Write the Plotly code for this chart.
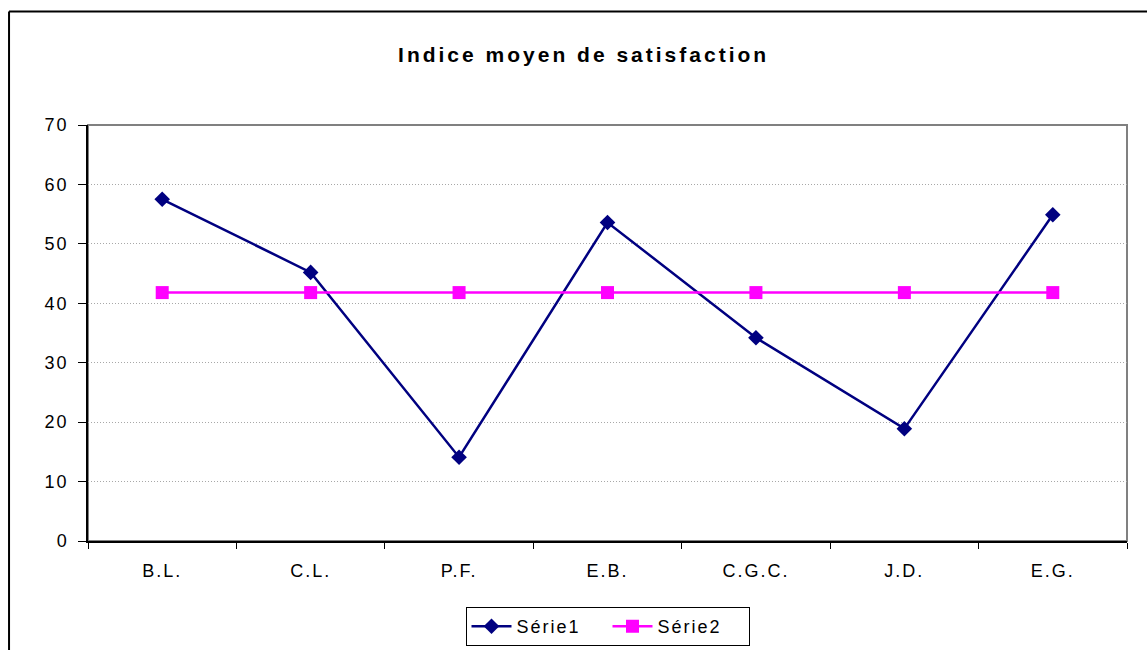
import plotly.graph_objects as go

categories = ["B.L.", "C.L.", "P.F.", "E.B.", "C.G.C.", "J.D.", "E.G."]
serie1 = [57.5, 45.2, 14.1, 53.6, 34.2, 18.9, 54.9]
serie2 = [41.8, 41.8, 41.8, 41.8, 41.8, 41.8, 41.8]
y_ticks = [0, 10, 20, 30, 40, 50, 60, 70]

FONT = "Liberation Sans, Arial, sans-serif"

fig = go.Figure()
fig.add_trace(go.Scatter(
    x=categories, y=serie1, name="Série1", mode="lines+markers",
    line=dict(color="#000080", width=2.5),
    marker=dict(symbol="diamond", size=12, color="#000080"),
))
fig.add_trace(go.Scatter(
    x=categories, y=serie2, name="Série2", mode="lines+markers",
    line=dict(color="#FF00FF", width=2.5),
    marker=dict(symbol="square", size=13, color="#FF00FF"),
))

# plot-area border (gray)
fig.add_shape(type="rect", xref="paper", yref="paper", x0=0, y0=0, x1=1, y1=1,
              line=dict(color="#808080", width=2), layer="below")
# outer chart border (top + left visible)
fig.add_shape(type="line", xref="paper", yref="paper", x0=-0.076, x1=1.2, y0=1.273, y1=1.273,
              line=dict(color="black", width=2))
fig.add_shape(type="line", xref="paper", yref="paper", x0=-0.076, x1=-0.076, y0=1.273, y1=-0.4,
              line=dict(color="black", width=2))

fig.update_layout(
    width=1147, height=650,
    margin=dict(l=88, r=20, t=125, b=109),
    paper_bgcolor="white", plot_bgcolor="white",
    font=dict(family=FONT, size=18, color="black"),
    title=dict(text="<b>Indice moyen de satisfaction</b>", font=dict(family=FONT, size=21, color="black"),
               x=0.477, xref="paper", xanchor="center", y=1 - 55 / 650, yref="container", yanchor="middle"),
    showlegend=True,
    legend=dict(orientation="h", x=0.5, xanchor="center", xref="paper",
                y=1 - 607 / 650, yref="container", yanchor="top",
                bordercolor="black", borderwidth=1, bgcolor="white",
                font=dict(family=FONT, size=18, color="black"),
                itemwidth=40, tracegroupgap=0, entrywidth=86),
    xaxis=dict(
        type="category", range=[-0.5, 6.5], tickson="boundaries",
        showgrid=False, showline=True, linecolor="black", linewidth=1.5,
        ticks="outside", ticklen=6, tickcolor="black", tickwidth=1,
        ticklabelstandoff=13,
    ),
    yaxis=dict(
        range=[0, 70], tickvals=y_ticks, showgrid=True, gridcolor="#A8A8A8", griddash="1px,2px", gridwidth=1,
        zeroline=False, showline=True, linecolor="black", linewidth=1.5,
        ticks="outside", ticklen=8, tickcolor="black", tickwidth=1,
        ticklabelstandoff=6,
    ),
)

post = """
var s=document.createElement('style');
s.textContent='html,body{margin:0;padding:0} svg text{letter-spacing:2px} svg text.gtitle{letter-spacing:3px}';
document.head.appendChild(s);
var gd=document.getElementById('{plot_id}');
Plotly.newPlot(gd, gd.data, gd.layout, {displayModeBar:false});
"""

fig.write_html("out.html", post_script=post, config={"displayModeBar": False})
